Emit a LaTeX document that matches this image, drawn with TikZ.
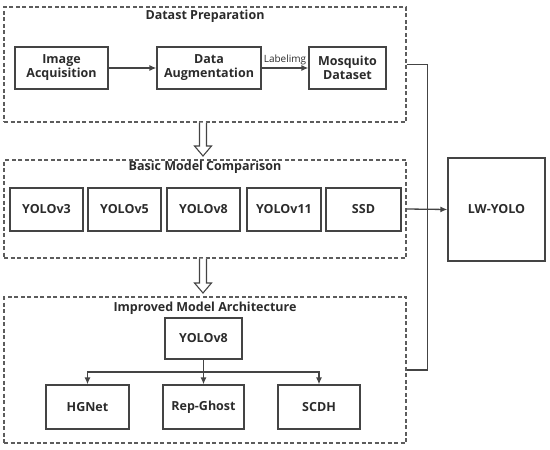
\documentclass[tikz,border=0pt]{standalone}
\usepackage{fontspec}
\setmainfont{Open Sans}
\usetikzlibrary{arrows.meta}
\definecolor{ln}{HTML}{444444}
\definecolor{dl}{HTML}{5C5C5C}
\definecolor{tx}{HTML}{2B2B2B}
\begin{document}
\begin{tikzpicture}[x=1pt,y=-1pt,
  box/.style={draw=ln,line width=1.3pt,inner sep=0pt,align=center,text=tx,font=\fontsize{12.5}{14}\selectfont\bfseries},
  group/.style={draw=dl,line width=1.1pt,dash pattern=on 4pt off 2.5pt,inner sep=0pt},
  ttl/.style={text=tx,font=\fontsize{12.5}{14}\selectfont\bfseries,inner sep=0pt},
  conn/.style={draw=ln,line width=1.3pt},
  arr/.style={conn,-{Latex[length=7pt,width=6pt]}},
  hollow/.style={draw=ln,line width=1.1pt,fill=white}]
\useasboundingbox (0,0) rectangle (550,450);
% groups
\node[group,minimum width=402pt,minimum height=115pt] (g1) at (205,64.5) {};
\node[ttl] (t1) at (205,16) {Datast Preparation};
\node[group,minimum width=402pt,minimum height=98pt] (g2) at (205,209) {};
\node[ttl] (t2) at (205,167) {Basic Model Comparison};
\node[group,minimum width=402pt,minimum height=146pt] (g3) at (205,370) {};
\node[ttl] (t3) at (205,308) {Improved Model Architecture};
% group 1
\node[box,minimum width=93pt,minimum height=42pt] (ia) at (61.5,68) {Image\\Acquisition};
\node[box,minimum width=104pt,minimum height=42pt] (da) at (209,68) {Data\\Augmentation};
\node[box,minimum width=77pt,minimum height=42pt] (md) at (347.5,68) {Mosquito\\Dataset};
\draw[arr] (ia) -- (da);
\draw[arr] (da) -- node[above=1pt,text=tx,font=\fontsize{10}{11}\selectfont,inner sep=1pt] (lab) {Labelimg} (md);
% group 2
\foreach \n/\c/\w/\t in {m1/46.5/73/YOLOv3, m2/124.5/73/YOLOv5, m3/203.5/73/YOLOv8, m4/284/74/YOLOv11, m5/363.5/75/SSD}
  \node[box,minimum width=\w pt,minimum height=43pt] (\n) at (\c,209.5) {\t};
% group 3
\node[box,minimum width=77pt,minimum height=41pt] (y8) at (203.5,338.5) {YOLOv8};
\node[box,minimum width=83pt,minimum height=44pt] (hg) at (87.5,407) {HGNet};
\node[box,minimum width=81pt,minimum height=44pt] (rg) at (203.5,407) {Rep-Ghost};
\node[box,minimum width=82pt,minimum height=44pt] (sc) at (319,407) {SCDH};
\coordinate (br) at (203.5,372);
\draw[conn] (y8.south) -- (br);
\draw[arr] (br) -| (hg.north);
\draw[arr] (br) -- (rg.north);
\draw[arr] (br) -| (sc.north);
% LW-YOLO
\node[box,minimum width=97pt,minimum height=103pt] (lw) at (496.5,209.5) {LW-YOLO};
\draw[conn] (g1.east) -- ++(21,0) |- (g3.east);
\draw[arr] (g2.east) -- (lw.west);
% hollow arrows
\draw[hollow] (199.5,122.5) -- (199.5,146) -- (194.5,146) -- (203,156) -- (211.5,146) -- (206.5,146) -- (206.5,122.5);
\draw[hollow] (199.5,258.5) -- (199.5,283) -- (194.5,283) -- (203,293) -- (211.5,283) -- (206.5,283) -- (206.5,258.5);
\end{tikzpicture}
\end{document}
